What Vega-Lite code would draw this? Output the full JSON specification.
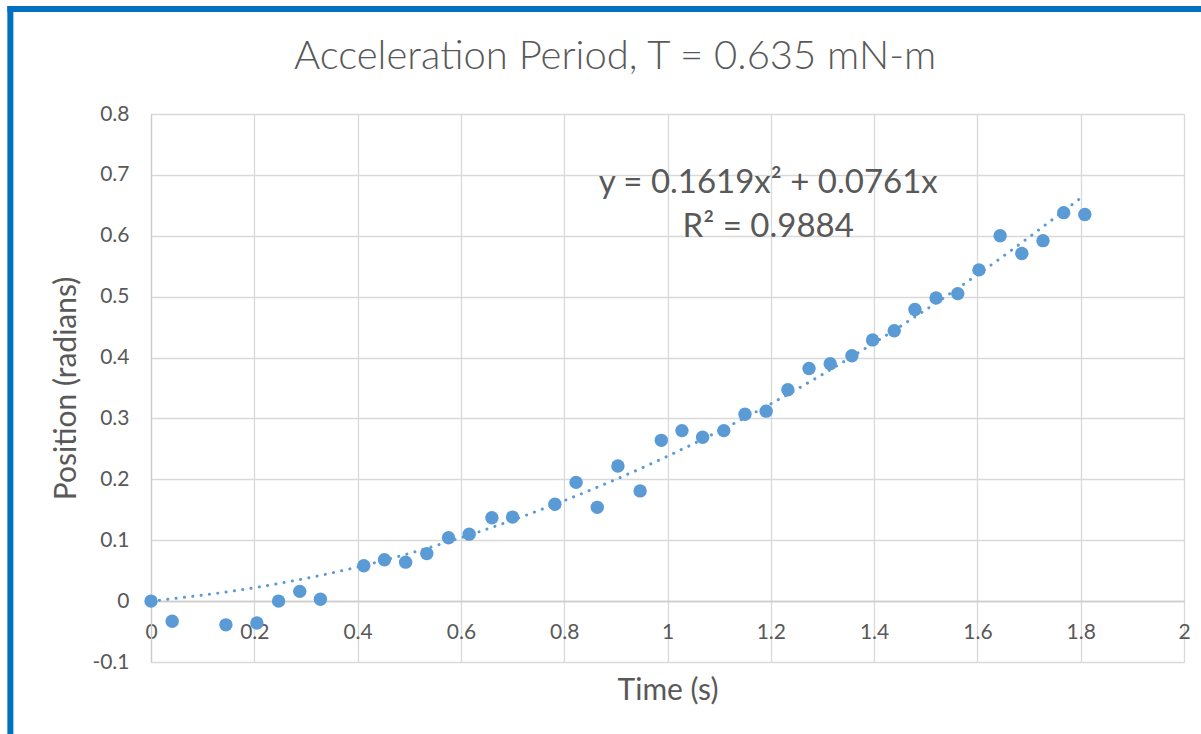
{
  "$schema": "https://vega.github.io/schema/vega-lite/v6.json",
  "width": 1033,
  "height": 548,
  "autosize": {"type": "none"},
  "padding": {"left": 151, "top": 114, "right": 17, "bottom": 72},
  "background": "white",
  "datasets": {
    "pts": [
      {"t": 0.0, "pos": 0.0},
      {"t": 0.041, "pos": -0.033},
      {"t": 0.145, "pos": -0.039},
      {"t": 0.205, "pos": -0.036},
      {"t": 0.247, "pos": 0.0},
      {"t": 0.288, "pos": 0.016},
      {"t": 0.328, "pos": 0.003},
      {"t": 0.412, "pos": 0.058},
      {"t": 0.452, "pos": 0.068},
      {"t": 0.493, "pos": 0.064},
      {"t": 0.534, "pos": 0.078},
      {"t": 0.576, "pos": 0.104},
      {"t": 0.616, "pos": 0.110},
      {"t": 0.660, "pos": 0.137},
      {"t": 0.700, "pos": 0.138},
      {"t": 0.782, "pos": 0.159},
      {"t": 0.823, "pos": 0.195},
      {"t": 0.864, "pos": 0.154},
      {"t": 0.904, "pos": 0.222},
      {"t": 0.947, "pos": 0.181},
      {"t": 0.988, "pos": 0.264},
      {"t": 1.028, "pos": 0.280},
      {"t": 1.068, "pos": 0.269},
      {"t": 1.109, "pos": 0.280},
      {"t": 1.150, "pos": 0.307},
      {"t": 1.191, "pos": 0.312},
      {"t": 1.233, "pos": 0.347},
      {"t": 1.274, "pos": 0.382},
      {"t": 1.315, "pos": 0.390},
      {"t": 1.357, "pos": 0.403},
      {"t": 1.397, "pos": 0.429},
      {"t": 1.439, "pos": 0.444},
      {"t": 1.479, "pos": 0.479},
      {"t": 1.520, "pos": 0.498},
      {"t": 1.562, "pos": 0.505},
      {"t": 1.603, "pos": 0.544},
      {"t": 1.644, "pos": 0.600},
      {"t": 1.686, "pos": 0.571},
      {"t": 1.727, "pos": 0.592},
      {"t": 1.767, "pos": 0.638},
      {"t": 1.808, "pos": 0.635}
    ],
    "trend": [
      {"t": 0.0, "pos": 0.0},
      {"t": 0.2, "pos": 0.022},
      {"t": 0.4, "pos": 0.056},
      {"t": 0.6, "pos": 0.104},
      {"t": 0.8, "pos": 0.165},
      {"t": 1.0, "pos": 0.238},
      {"t": 1.2, "pos": 0.324},
      {"t": 1.4, "pos": 0.424},
      {"t": 1.6, "pos": 0.536},
      {"t": 1.8, "pos": 0.662}
    ],
    "note": [
      {"label": ["y = 0.1619x² + 0.0761x", "R² = 0.9884"], "title": "Acceleration Period, T = 0.635 mN-m"}
    ]
  },
  "layer": [
    {
      "data": {"name": "trend"},
      "mark": {
        "type": "line",
        "color": "#5B9BD5",
        "strokeWidth": 3,
        "strokeDash": [0.1, 8.3],
        "strokeCap": "round",
        "interpolate": "monotone"
      },
      "encoding": {
        "x": {
          "field": "t",
          "type": "quantitative",
          "scale": {"domain": [0, 2], "nice": false, "zero": false},
          "axis": {
            "orient": "bottom",
            "offset": -61,
            "values": [0, 0.2, 0.4, 0.6, 0.8, 1, 1.2, 1.4, 1.6, 1.8, 2],
            "labelExpr": "'' + round(datum.value * 10) / 10",
            "labelFlush": false,
            "title": "Time (s)",
            "titlePadding": 33,
            "labelPadding": 20
          }
        },
        "y": {
          "field": "pos",
          "type": "quantitative",
          "scale": {"domain": [-0.1, 0.8], "nice": false, "zero": false},
          "axis": {
            "values": [-0.1, 0, 0.1, 0.2, 0.3, 0.4, 0.5, 0.6, 0.7, 0.8],
            "labelExpr": "'' + round(datum.value * 10) / 10",
            "labelFlush": false,
            "title": "Position (radians)",
            "titlePadding": 10,
            "labelPadding": 22
          }
        }
      }
    },
    {
      "data": {"name": "pts"},
      "mark": {"type": "circle", "size": 180, "color": "#5B9BD5", "opacity": 1},
      "encoding": {
        "x": {"field": "t", "type": "quantitative"},
        "y": {"field": "pos", "type": "quantitative"}
      }
    },
    {
      "data": {"name": "note"},
      "mark": {
        "type": "text",
        "font": "Lato",
        "fontSize": 33,
        "color": "#595959",
        "align": "center",
        "baseline": "alphabetic",
        "lineHeight": 44
      },
      "encoding": {
        "x": {"datum": 1.195},
        "y": {"datum": 0.670},
        "text": {"field": "label"}
      }
    },
    {
      "data": {"name": "note"},
      "mark": {
        "type": "text",
        "font": "Lato",
        "fontSize": 40,
        "fontWeight": 300,
        "color": "#595959",
        "align": "center",
        "baseline": "alphabetic"
      },
      "encoding": {
        "x": {"datum": 0.8986},
        "y": {"datum": 0.8736},
        "text": {"field": "title"}
      }
    },
    {
      "data": {"name": "note"},
      "mark": {"type": "rule", "color": "#0070C0", "strokeWidth": 6, "strokeCap": "square"},
      "encoding": {
        "x": {"datum": -0.2723},
        "y": {"datum": 0.9726},
        "y2": {"datum": -0.25}
      }
    },
    {
      "data": {"name": "note"},
      "mark": {"type": "rule", "color": "#0070C0", "strokeWidth": 6, "strokeCap": "square"},
      "encoding": {
        "x": {"datum": -0.2723},
        "x2": {"datum": 2.06},
        "y": {"datum": 0.9726}
      }
    }
  ],
  "config": {
    "view": {"stroke": null},
    "axis": {
      "grid": true,
      "gridColor": "#D9D9D9",
      "gridWidth": 1.3,
      "domain": true,
      "domainColor": "#CCCCCC",
      "domainWidth": 1.3,
      "ticks": false,
      "labelFont": "Lato",
      "labelFontSize": 21,
      "labelColor": "#595959",
      "titleFont": "Lato",
      "titleFontSize": 30,
      "titleFontWeight": "normal",
      "titleColor": "#595959"
    }
  }
}
